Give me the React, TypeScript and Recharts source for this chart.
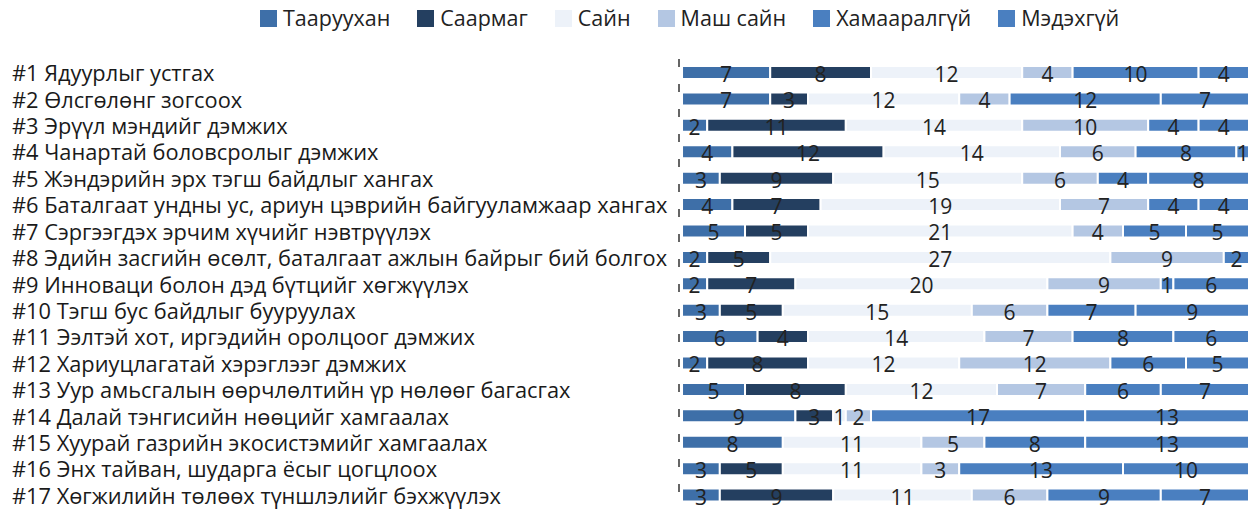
import { BarChart, Bar, XAxis, YAxis, LabelList } from "recharts";

const goals = [
  "#1 Ядуурлыг устгах",
  "#2 Өлсгөлөнг зогсоох",
  "#3 Эрүүл мэндийг дэмжих",
  "#4 Чанартай боловсролыг дэмжих",
  "#5 Жэндэрийн эрх тэгш байдлыг хангах",
  "#6 Баталгаат ундны ус, ариун цэврийн байгууламжаар хангах",
  "#7 Сэргээгдэх эрчим хүчийг нэвтрүүлэх",
  "#8 Эдийн засгийн өсөлт, баталгаат ажлын байрыг бий болгох",
  "#9 Инноваци болон дэд бүтцийг хөгжүүлэх",
  "#10 Тэгш бус байдлыг бууруулах",
  "#11 Ээлтэй хот, иргэдийн оролцоог дэмжих",
  "#12 Хариуцлагатай хэрэглээг дэмжих",
  "#13 Уур амьсгалын өөрчлөлтийн үр нөлөөг багасгах",
  "#14 Далай тэнгисийн нөөцийг хамгаалах",
  "#15 Хуурай газрийн экосистэмийг хамгаалах",
  "#16 Энх тайван, шударга ёсыг цогцлоох",
  "#17 Хөгжилийн төлөөх түншлэлийг бэхжүүлэх",
];

const taaruuhan = [7, 7, 2, 4, 3, 4, 5, 2, 2, 3, 6, 2, 5, 9, 8, 3, 3];
const saarmag = [8, 3, 11, 12, 9, 7, 5, 5, 7, 5, 4, 8, 8, 3, 0, 5, 9];
const sain = [12, 12, 14, 14, 15, 19, 21, 27, 20, 15, 14, 12, 12, 1, 11, 11, 11];
const mashSain = [4, 4, 10, 6, 6, 7, 4, 9, 9, 6, 7, 12, 7, 2, 5, 3, 6];
const hamaaralgui = [10, 12, 4, 8, 4, 4, 5, 0, 1, 7, 8, 6, 6, 17, 8, 13, 9];
const medehgui = [4, 7, 4, 1, 8, 4, 5, 2, 6, 9, 6, 5, 7, 13, 13, 10, 7];

const series = [
  { key: "t", name: "Таарууxан", color: "#3e6fa8", values: taaruuhan },
  { key: "s", name: "Саармаг", color: "#243f60", values: saarmag },
  { key: "g", name: "Сайн", color: "#edf2f9", values: sain },
  { key: "m", name: "Маш сайн", color: "#b4c7e3", values: mashSain },
  { key: "h", name: "Хамааралгүй", color: "#4a7fc0", values: hamaaralgui },
  { key: "d", name: "Мэдэхгүй", color: "#4a7fc0", values: medehgui },
];

const data = goals.map((name, i) => {
  const row: Record<string, string | number> = { name };
  series.forEach((s) => (row[s.key] = s.values[i]));
  return row;
});

const FONT = "'Open Sans', sans-serif";

function GoalTick(props: any) {
  const { y, payload } = props;
  return (
    <text x={4} y={y} dy={9} textAnchor="start" fill="#1a1a1a" fontSize={21.8} fontFamily={FONT}>
      {payload.value}
    </text>
  );
}

function LegendRow() {
  return (
    <div
      style={{
        position: "absolute",
        top: -5,
        left: 252,
        display: "flex",
        alignItems: "center",
        fontFamily: FONT,
        fontSize: 21.5,
        lineHeight: "30px",
        color: "#222",
        whiteSpace: "nowrap",
      }}
    >
      {series.map((s) => (
        <div key={s.key} style={{ display: "flex", alignItems: "center", marginRight: 27 }}>
          <span style={{ width: 17, height: 17, background: s.color, display: "inline-block", marginRight: 6 }} />
          <span>{s.name}</span>
        </div>
      ))}
    </div>
  );
}

export default function App() {
  return (
    <div style={{ width: 1250, height: 501, position: "relative" }}>
      <LegendRow />
      <BarChart
        width={1250}
        height={501}
        data={data}
        layout="vertical"
        margin={{ top: 51, right: 9, bottom: 1, left: 0 }}
        barCategoryGap={0}
      >
        <XAxis type="number" hide domain={[-0.24, 45]} />
        <YAxis
          type="category"
          dataKey="name"
          width={671}
          tick={<GoalTick />}
          tickLine={false}
          interval={0}
          axisLine={{ stroke: "#333", strokeWidth: 1.5, strokeDasharray: "8 17" }}
        />
        {series.map((s) => (
          <Bar
            key={s.key}
            dataKey={s.key}
            name={s.name}
            stackId="a"
            fill={s.color}
            stroke="#fff"
            strokeWidth={2}
            barSize={13}
            isAnimationActive={false}
          >
            <LabelList
              dataKey={s.key}
              position="center"
              fill="#222"
              fontSize={21}
              fontFamily={FONT}
              dy={2}
              formatter={(v: any) => (v ? v : "")}
            />
          </Bar>
        ))}
      </BarChart>
    </div>
  );
}
